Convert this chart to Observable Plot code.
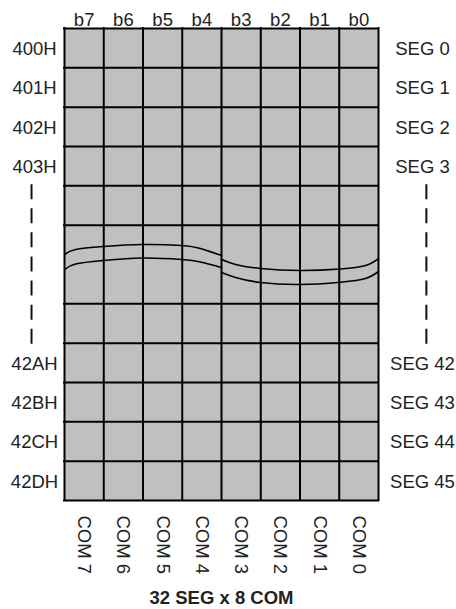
<!DOCTYPE html>
<html><head><meta charset="utf-8">
<script src="https://cdn.jsdelivr.net/npm/d3@7"></script>
<script src="https://cdn.jsdelivr.net/npm/@observablehq/plot@0.6"></script>
<style>body{margin:0;background:#fff} svg{display:block}</style>
</head><body><div id="chart"></div>
<script>
// ---- data ----
const bits = ["b7","b6","b5","b4","b3","b2","b1","b0"];
const coms = ["COM 7","COM 6","COM 5","COM 4","COM 3","COM 2","COM 1","COM 0"];
const addrTop = ["400H","401H","402H","403H"];
const addrBottom = ["42AH","42BH","42CH","42DH"];
const segTop = ["SEG 0","SEG 1","SEG 2","SEG 3"];
const segBottom = ["SEG 42","SEG 43","SEG 44","SEG 45"];
const caption = "32 SEG x 8 COM";
const nCols = 8, nRows = 12;
const topRows = [0,1,2,3];
const bottomRows = [8,9,10,11];
const breakLine = 6;            // horizontal grid line replaced by the break
const dashSpan = [3.97, 8.03];  // rows covered by the "..." dashed leaders
// break wave (column units, row units)
const waveLeftX      = [0, 0.28, 0.99, 1.99, 2.98, 3.46, 4];
const waveLeftUpper  = [5.746, 5.619, 5.543, 5.492, 5.517, 5.594, 5.772];
const waveLeftLower  = [6.128, 5.988, 5.899, 5.835, 5.873, 5.937, 6.077];
const waveRightX     = [4, 4.36, 4.99, 6.01, 7.03, 7.67, 8];
const waveRightUpper = [5.873, 6.0, 6.102, 6.153, 6.115, 6.026, 5.848];
const waveRightLower = [6.204, 6.331, 6.458, 6.509, 6.45, 6.357, 6.178];

// ---- derived tables ----
const topLabels = bits.map((t, i) => ({t, x: i + 0.5}));
const comLabels = coms.map((t, i) => ({t, x: i + 0.5}));
const leftLabels = [...addrTop.map((t, i) => ({t, y: topRows[i] + 0.5})),
                    ...addrBottom.map((t, i) => ({t, y: bottomRows[i] + 0.5}))];
const rightLabels = [...segTop.map((t, i) => ({t, y: topRows[i] + 0.5})),
                     ...segBottom.map((t, i) => ({t, y: bottomRows[i] + 0.5}))];
const wave = [];
[[waveLeftX, waveLeftUpper, "lu"], [waveLeftX, waveLeftLower, "ll"],
 [waveRightX, waveRightUpper, "ru"], [waveRightX, waveRightLower, "rl"]]
  .forEach(([xs, ys, id]) => xs.forEach((x, i) => wave.push({id, x, y: ys[i]})));

const font = "'Liberation Sans', Arial, Helvetica, sans-serif";
const fs = 18.5;
const ink = "#222";

const chart = Plot.plot({
  width: 456, height: 609,
  marginLeft: 64, marginRight: 78, marginTop: 28, marginBottom: 109,
  x: {type: "linear", domain: [0, nCols], axis: null},
  y: {type: "linear", domain: [0, nRows], reverse: true, axis: null},
  style: {fontFamily: font, background: "#fff"},
  marks: [
    Plot.rect([{x1: 0, x2: nCols, y1: 0, y2: nRows}], {x1: "x1", x2: "x2", y1: "y1", y2: "y2", fill: "#c0c0c0"}),
    Plot.line(wave, {x: "x", y: "y", z: "id", curve: "natural", stroke: "#000", strokeWidth: 1.6}),
    Plot.ruleX(d3.range(nCols + 1), {y1: 0, y2: nRows, stroke: "#000", strokeWidth: 2, strokeLinecap: "square"}),
    Plot.ruleY(d3.range(nRows + 1).filter(i => i !== breakLine), {x1: 0, x2: nCols, stroke: "#000", strokeWidth: 2, strokeLinecap: "square"}),
    Plot.ruleX([-0.84, 9.22], {y1: dashSpan[0], y2: dashSpan[1], stroke: "#111", strokeWidth: 2, strokeDasharray: "15,9.1"}),
    Plot.text(topLabels, {x: "x", y: -0.076, text: "t", lineAnchor: "bottom", fontSize: fs, fontFamily: font, fill: ink}),
    Plot.text(leftLabels, {x: -0.764, y: "y", text: "t", textAnchor: "middle", dy: 1, fontSize: fs, fontFamily: font, fill: ink}),
    Plot.text(rightLabels, {x: 9.12, y: "y", text: "t", textAnchor: "middle", dy: 1, fontSize: fs, fontFamily: font, fill: ink}),
    Plot.text(comLabels, {x: "x", y: 12.38, text: "t", rotate: 90, textAnchor: "start", lineAnchor: "middle", fontSize: fs, fontFamily: font, fill: ink}),
    Plot.text([caption], {x: nCols / 2, y: 14.49, text: d => d, fontSize: fs, fontWeight: "bold", fontFamily: font, fill: ink})
  ]
});
document.getElementById("chart").appendChild(chart);
</script>
</body></html>
